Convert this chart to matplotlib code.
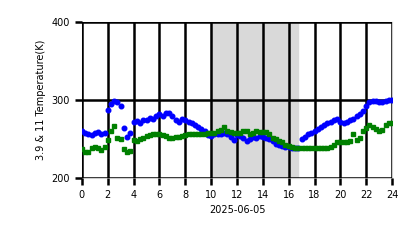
import numpy as np
import matplotlib
matplotlib.use("Agg")
import matplotlib.pyplot as plt

# Horas del dia (muestras cada 15 minutos)
horas = np.arange(0, 24.01, 0.25)

# Temperatura de brillo canal 11 um (azul)
temp_11 = [260, 258, 256, 255, 258, 259, 257, 258,
           287, 295, 299, 297, 293, 264, 253, 258,
           272, 273, 271, 274, 275, 277, 276, 279,
           282, 280, 284, 283, 279, 275, 272, 276,
           274, 272, 270, 268, 266, 263, 260, 255,
           254, 256, 257, 256, 258, 257, 253, 249,
           255, 254, 252, 247, 250, 253, 252, 254,
           253, 252, 250, 247, 244, 242, 241, 240,
           240, 239, 239, 238, 250, 253, 256, 258,
           260, 263, 266, 268, 270, 272, 274, 276,
           272, 270, 272, 274, 276, 279, 282, 286,
           292, 298, 299, 299, 298, 298, 299, 300,
           300]

# Temperatura de brillo canal 3.9 um (verde)
temp_39 = [237, 234, 233, 238, 240, 238, 236, 240,
           249, 260, 267, 252, 250, 237, 234, 235,
           249, 248, 250, 252, 254, 255, 256, 256,
           256, 255, 254, 252, 252, 253, 253, 254,
           255, 256, 257, 257, 256, 257, 257, 258,
           258, 258, 260, 262, 266, 260, 259, 258,
           258, 258, 260, 260, 256, 258, 260, 259,
           259, 259, 257, 252, 250, 248, 246, 243,
           241, 240, 239, 238, 238, 238, 238, 238,
           238, 238, 238, 238, 239, 240, 243, 246,
           246, 246, 246, 247, 257, 249, 252, 260,
           264, 268, 265, 263, 260, 262, 268, 270,
           271]

# Periodo nocturno sombreado
inicio_sombra = 10
fin_sombra = 16.75

fig = plt.figure(figsize=(4.18, 2.48), dpi=100)
ax = fig.add_axes([0.196, 0.282, 0.742, 0.629])

ax.axvspan(inicio_sombra, fin_sombra, color="#d9d9d9", zorder=0)
ax.plot(horas, temp_11, "o", color="blue", markersize=3.3, zorder=3)
ax.plot(horas, temp_39, "s", color="green", markersize=2.6, zorder=3)

ax.set_xlim(0, 24)
ax.set_ylim(200, 400)
ax.set_xticks(range(0, 25, 2))
ax.set_yticks([200, 300, 400])
ax.grid(True, color="black", linewidth=1.8, zorder=1)
ax.set_axisbelow(False)
for s in ax.spines.values():
    s.set_color("#cccccc")
ax.tick_params(labelsize=7, length=5, width=1.8, color="black")
ax.set_xlabel("2025-06-05", fontsize=7)
ax.set_ylabel("3.9 & 11 Temperature(K)", fontsize=7)

plt.savefig("out.png", dpi=100)
